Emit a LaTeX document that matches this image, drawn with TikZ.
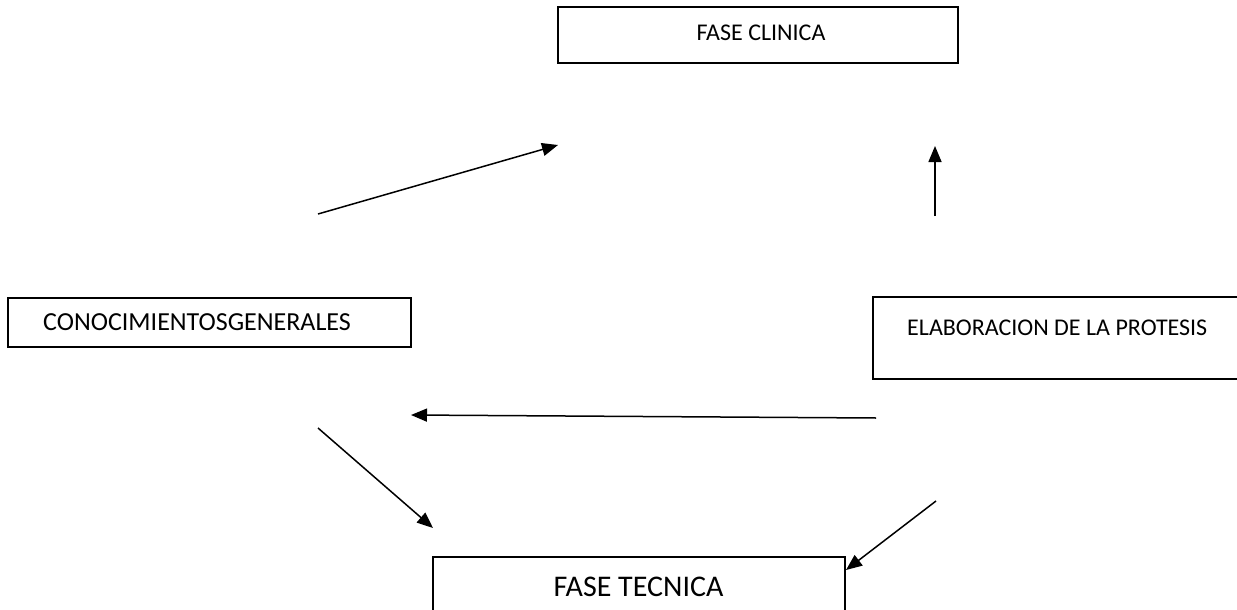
\documentclass[tikz,border=0pt]{standalone}
\usepackage{fontspec}
\setmainfont{Carlito}
\usetikzlibrary{arrows.meta}
\begin{document}
\begin{tikzpicture}[x=1pt,y=-1pt,
  box/.style={draw, line width=2pt, inner sep=0pt},
  txt/.style={inner sep=0pt, font=\fontsize{24}{28}\selectfont},
  midtxt/.style={inner sep=0pt, font=\fontsize{26}{30}\selectfont},
  bigtxt/.style={inner sep=0pt, font=\fontsize{30}{36}\selectfont},
  arr/.style={line width=1.5pt, -{Triangle[length=16pt,width=13pt]}}]
\clip (0,0) rectangle (1237,610);
\fill[white] (0,0) rectangle (1237,610);
% boxes
\node[box, minimum width=400pt, minimum height=56pt] (clin) at (758,35) {};
\node[box, minimum width=403pt, minimum height=49pt] (cono) at (209.5,322.5) {};
\node[box, minimum width=400pt, minimum height=82pt] (elab) at (1073,338) {};
\node[box, minimum width=412pt, minimum height=64pt] (tecn) at (639,589) {};
% texts
\node[txt, anchor=base] (clint) at (761,41) {FASE CLINICA};
\node[midtxt, anchor=base west] (conot) at (43,330) {CONOCIMIENTOSGENERALES};
\node[txt, anchor=base west] (elabt) at (907,335) {ELABORACION DE LA PROTESIS};
\node[bigtxt, anchor=base] (tecnt) at (638.5,596) {FASE TECNICA};
% arrow ends
\coordinate (a1s) at (318,214);
\coordinate (a1e) at (558,145);
\coordinate (a2s) at (935,216);
\coordinate (a2e) at (935,146);
\coordinate (a3s) at (876,418);
\coordinate (a3e) at (411,415);
\coordinate (a4s) at (318,428);
\coordinate (a4e) at (433,528);
\coordinate (a5s) at (936,501);
\coordinate (a5e) at (846,570);
\draw[arr] (a1s) -- (a1e);
\draw[arr] (a2s) -- (a2e);
\draw[arr] (a3s) -- (a3e);
\draw[arr] (a4s) -- (a4e);
\draw[arr] (a5s) -- (a5e);
\end{tikzpicture}
\end{document}
